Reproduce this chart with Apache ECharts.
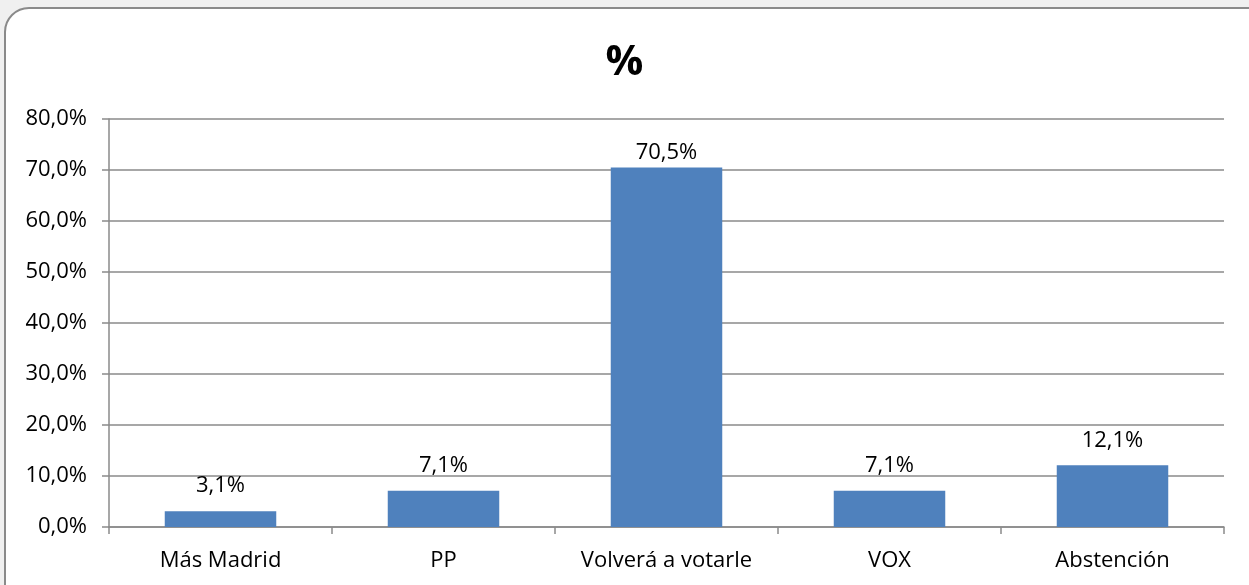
<!DOCTYPE html>
<html lang="es" style="background: #F0F0F0;height: 100%">

<head>
    <meta charset="utf-8" />
    <title>%</title>
    <script src="https://cdn.jsdelivr.net/npm/echarts@6/dist/echarts.min.js"></script>
</head>

<body style="margin: 0;height: 100%">
    <div id="chart" style="width:1249px;height:585px"></div>
    <script>
    // datos del gráfico
    let categories = ['Más Madrid', 'PP', 'Volverá a votarle', 'VOX', 'Abstención']
    let values = [3.1, 7.1, 70.5, 7.1, 12.1]
    let yTicks = [0, 10, 20, 30, 40, 50, 60, 70, 80]

    function pct(v) {
        return v.toFixed(1).replace('.', ',') + '%'
    }

    let chart = echarts.init(document.getElementById('chart'))
    let font = '"Open Sans", "Noto Sans", sans-serif'

    // la etiqueta de la barra alta va más pegada a la barra (como en el original)
    let barData = values.map(v => v > 60 ? { value: v, label: { distance: 4 } } : v)

    chart.setOption({
        backgroundColor: '#F0F0F0',
        animation: false,
        graphic: [{
            type: 'rect',
            z: -10,
            shape: { x: 5, y: 8, width: 1270, height: 610, r: 24 },
            style: { fill: '#FFFFFF', stroke: '#8A8A8A', lineWidth: 2 }
        }],
        title: {
            text: '%',
            left: 'center',
            top: 37,
            textStyle: { fontFamily: font, fontSize: 42, fontWeight: 'bold', color: '#000' }
        },
        grid: { left: 109, right: 25, top: 119, bottom: 58 },
        xAxis: {
            type: 'category',
            data: categories,
            axisLine: { lineStyle: { color: '#8A8A8A', width: 1.5 } },
            axisTick: { show: true, length: 7, lineStyle: { color: '#8A8A8A', width: 1.5 } },
            axisLabel: { margin: 23, fontFamily: font, fontSize: 22, color: '#000' }
        },
        yAxis: {
            type: 'value',
            min: yTicks[0],
            max: yTicks[yTicks.length - 1],
            interval: 10,
            axisLine: { show: true, lineStyle: { color: '#8A8A8A', width: 1.5 } },
            axisTick: { show: true, length: 7, lineStyle: { color: '#8A8A8A', width: 1.5 } },
            splitLine: { lineStyle: { color: '#8A8A8A', width: 1.5 } },
            axisLabel: { margin: 22, fontFamily: font, fontSize: 22, color: '#000', formatter: pct }
        },
        series: [{
            type: 'bar',
            data: barData,
            barWidth: '50%',
            itemStyle: { color: '#4F81BD' },
            label: {
                show: true,
                position: 'top',
                distance: 14,
                fontFamily: font,
                fontSize: 22,
                color: '#000',
                formatter: p => pct(p.value)
            }
        }]
    })
    </script>
</body>

</html>
